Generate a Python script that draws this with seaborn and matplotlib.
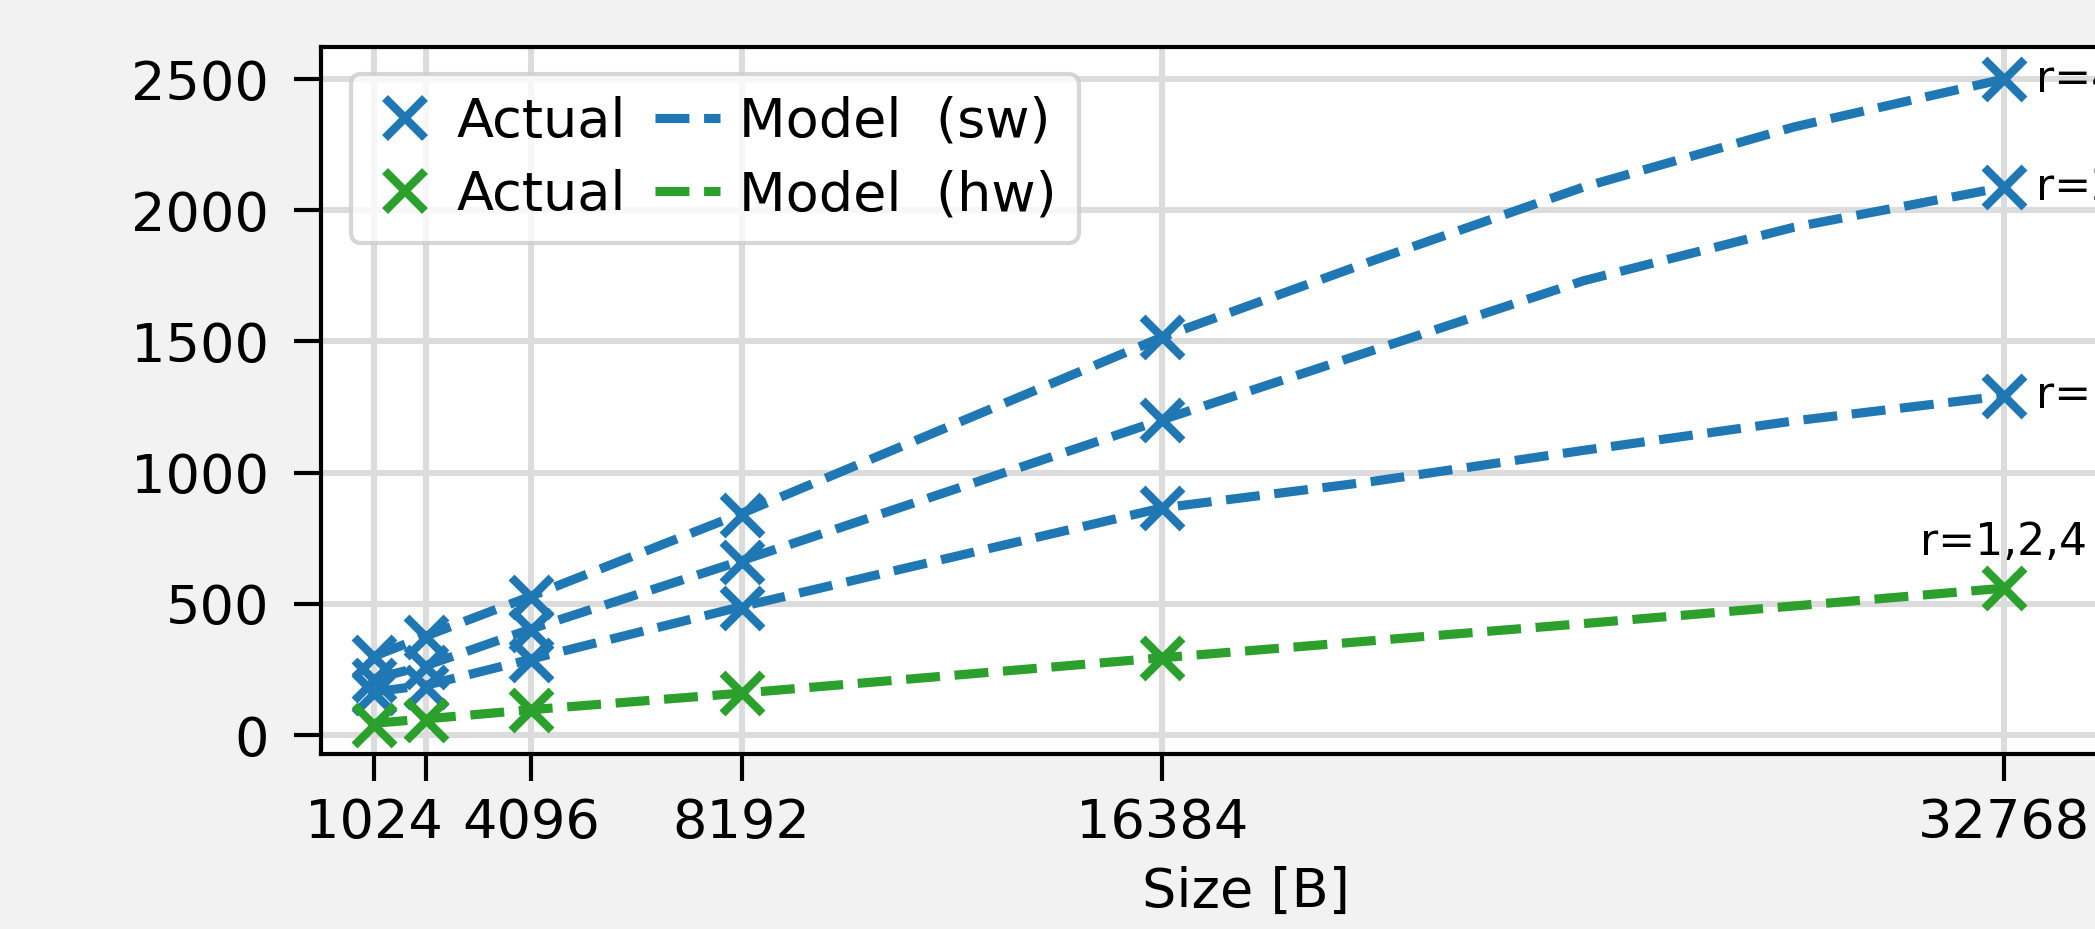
import numpy as np
import pandas as pd
import seaborn as sns
import matplotlib
matplotlib.use("Agg")
import matplotlib.pyplot as plt
from matplotlib.lines import Line2D

# measured points (sw: one series per r, hw: all r overlap)
sizes = [1024, 2048, 4096, 8192, 16384, 32768]
sw_r1 = [160, 183, 286, 484, 866, 1293]
sw_r2 = [210, 259, 400, 659, 1202, 2088]
sw_r4 = [297, 373, 526, 838, 1517, 2500]
hw_all = [40, 57, 95, 160, 295, 560]

# model curves
model_sizes = [1024, 2048, 4096, 8192, 16384, 20480, 24576, 28672, 32768]
model_sw_r1 = [165, 190, 290, 490, 866, 967, 1085, 1197, 1293]
model_sw_r2 = [215, 265, 405, 665, 1202, 1466, 1731, 1935, 2088]
model_sw_r4 = [300, 378, 530, 845, 1517, 1808, 2088, 2317, 2500]
model_hw = [45, 62, 97, 160, 295, 360, 425, 492, 560]

r_labels = ["r=1", "r=2", "r=4"]

blue = "#1f77b4"
green = "#2ca02c"

sns.set_style("white")
plt.rcParams['font.family'] = ['DejaVu Sans']
plt.rcParams['font.size'] = 13
plt.rcParams['text.color'] = 'black'
plt.rcParams['axes.labelcolor'] = 'black'
plt.rcParams['xtick.color'] = 'black'
plt.rcParams['ytick.color'] = 'black'

fig = plt.figure(figsize=(2095 / 300, 929 / 300), dpi=300, facecolor="#f2f2f2")
ax = fig.add_axes([0.1532, 0.1889, 0.8826, 0.7605])
ax.set_facecolor("white")

rows = []
for lab, vals in zip(r_labels, [sw_r1, sw_r2, sw_r4]):
    for s, v in zip(sizes, vals):
        rows.append({"size": s, "time": v, "r": lab, "kind": "sw"})
for s, v in zip(sizes, hw_all):
    rows.append({"size": s, "time": v, "r": "all", "kind": "hw"})
actual = pd.DataFrame(rows)

mrows = []
for lab, vals in zip(r_labels, [model_sw_r1, model_sw_r2, model_sw_r4]):
    for s, v in zip(model_sizes, vals):
        mrows.append({"size": s, "time": v, "r": lab, "kind": "sw"})
for s, v in zip(model_sizes, model_hw):
    mrows.append({"size": s, "time": v, "r": "all", "kind": "hw"})
model = pd.DataFrame(mrows)

for kind, col in [("sw", blue), ("hw", green)]:
    m = model[model.kind == kind]
    for r, g in m.groupby("r"):
        sns.lineplot(data=g, x="size", y="time", ax=ax, color=col,
                     linestyle="--", linewidth=2.2, legend=False, zorder=3)
    a = actual[actual.kind == kind]
    sns.scatterplot(data=a, x="size", y="time", ax=ax, color=col,
                    marker="x", s=92, linewidth=2.0, legend=False, zorder=4)

# labels next to the last points
for lab, vals in zip(r_labels, [sw_r1, sw_r2, sw_r4]):
    ax.annotate(lab, (sizes[-1], vals[-1]), xytext=(7.7, 0),
                textcoords="offset points", ha="left", va="center", fontsize=10.6)
ax.annotate("r=1,2,4", (sizes[-1], hw_all[-1]), xytext=(0, 8),
            textcoords="offset points", ha="center", va="baseline", fontsize=10.6)

ax.set_xlim(0, 36000)
ax.set_ylim(-70, 2622)
ax.set_xticks(sizes)
ax.set_xticklabels(["1024", "", "4096", "8192", "16384", "32768"])
ax.set_yticks([0, 500, 1000, 1500, 2000, 2500])
ax.set_xlabel("Size [B]", fontsize=13, labelpad=4)
ax.set_ylabel("")

ax.grid(True, color="#dcdcdc", linewidth=1.45)
ax.set_axisbelow(True)
for sp in ax.spines.values():
    sp.set_color("black")
    sp.set_linewidth(1.0)
ax.tick_params(axis="both", bottom=True, left=True, length=6.5, width=1.0,
               color="black", labelsize=13)
ax.tick_params(axis="x", pad=4)
ax.tick_params(axis="y", pad=6)

handles = [
    Line2D([], [], color=blue, marker="x", linestyle="none", markersize=9.6, markeredgewidth=2.0),
    Line2D([], [], color=green, marker="x", linestyle="none", markersize=9.6, markeredgewidth=2.0),
    Line2D([], [], color=blue, linestyle="--", linewidth=2.2, dashes=(3.7, 1.6)),
    Line2D([], [], color=green, linestyle="--", linewidth=2.2, dashes=(3.7, 1.6)),
]
labels = ["Actual", "Actual", "Model  (sw)", "Model  (hw)"]
ax.legend(handles, labels, ncol=2, loc="upper left", bbox_to_anchor=(0.016, 0.962),
          borderaxespad=0, handlelength=1.2, handletextpad=0.35, columnspacing=0.55,
          fontsize=13, frameon=True, edgecolor="#cccccc", framealpha=0.8,
          borderpad=0.4, labelspacing=0.4)

fig.savefig("out.png", dpi=300, facecolor=fig.get_facecolor())
